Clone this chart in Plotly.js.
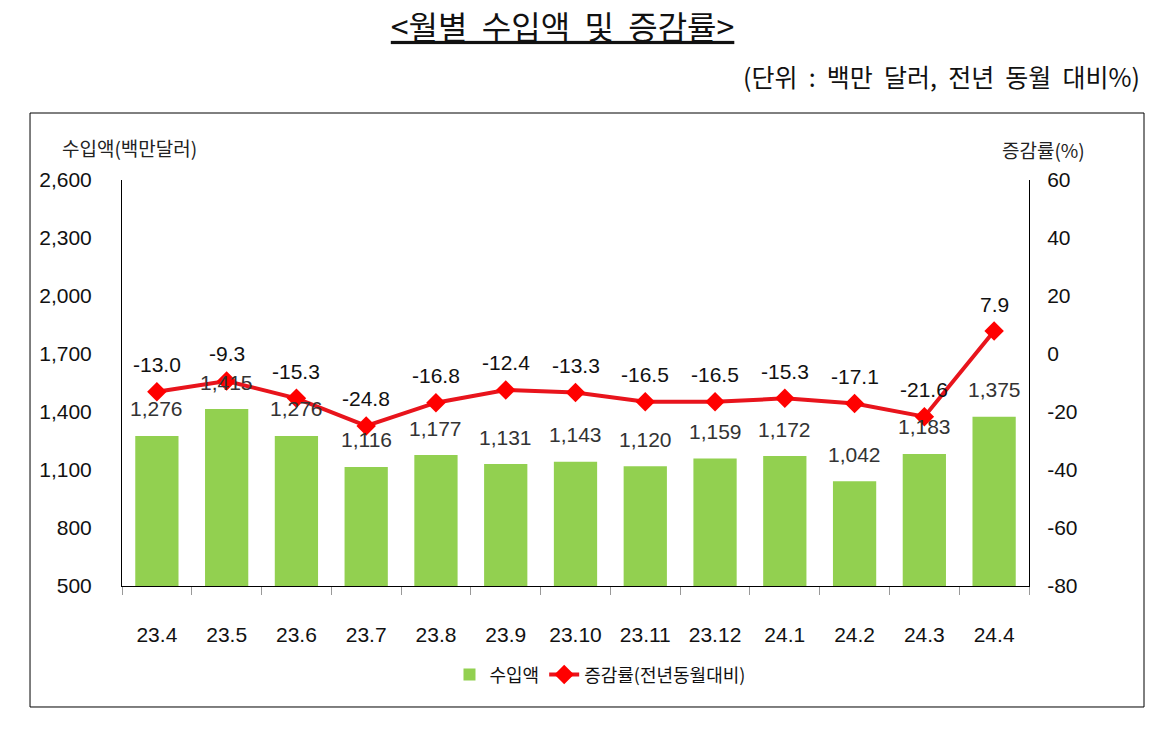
<!DOCTYPE html>
<html>
<head>
<meta charset="utf-8">
<script src="https://cdn.plot.ly/plotly-3.0.1.min.js"></script>
<style>html,body{margin:0;padding:0;background:#fff;}#chart{width:1172px;height:729px;}</style>
</head>
<body>
<div id="chart"></div>
<script>
const months = ["23.4","23.5","23.6","23.7","23.8","23.9","23.10","23.11","23.12","24.1","24.2","24.3","24.4"];
const imports = [1276,1415,1276,1116,1177,1131,1143,1120,1159,1172,1042,1183,1375];
const changeRate = [-13.0,-9.3,-15.3,-24.8,-16.8,-12.4,-13.3,-16.5,-16.5,-15.3,-17.1,-21.6,7.9];
const leftTicks = [500,800,1100,1400,1700,2000,2300,2600];
const rightTicks = [-80,-60,-40,-20,0,20,40,60];

const numFont = "Arial, 'Liberation Sans', 'Noto Sans CJK KR', sans-serif";
const krFont = "'Noto Sans CJK KR', 'Noto Sans', sans-serif";

const fmt = v => v.toLocaleString('en-US');
const idx = months.map((m, i) => i);

const traces = [
  {
    type: 'bar', x: idx, y: imports, name: '수입액',
    marker: {color: '#92D050'}, width: 0.62, yaxis: 'y',
    hoverinfo: 'skip'
  },
  {
    type: 'scatter', mode: 'lines+markers', x: idx, y: changeRate,
    name: '증감률(전년동월대비)', yaxis: 'y2',
    line: {color: '#E8141C', width: 4},
    marker: {symbol: 'diamond', size: 15, color: '#FF0000'},
    hoverinfo: 'skip'
  }
];

const annotations = [];
months.forEach((m, i) => {
  annotations.push({
    x: i, y: imports[i], xref: 'x', yref: 'y', text: fmt(imports[i]),
    showarrow: false, yshift: 27, font: {family: numFont, size: 21, color: '#333333'}
  });
  annotations.push({
    x: i, y: changeRate[i], xref: 'x', yref: 'y2', text: changeRate[i].toFixed(1),
    showarrow: false, yshift: 27, font: {family: numFont, size: 21, color: '#111111'}
  });
});
annotations.push({
  xref: 'paper', yref: 'paper', x: -0.068, y: 1.08, xanchor: 'left', yanchor: 'middle',
  text: '수입액(백만달러)', showarrow: false, font: {family: krFont, size: 19, color: '#222'}
});
annotations.push({
  xref: 'paper', yref: 'paper', x: 1.0165, y: 1.075, xanchor: 'center', yanchor: 'middle',
  text: '증감률(%)', showarrow: false, font: {family: krFont, size: 19, color: '#222'}
});
annotations.push({
  xref: 'paper', yref: 'paper', x: 1.125, y: 1.255, xanchor: 'right', yanchor: 'middle',
  text: '(단위&nbsp;&nbsp;:&nbsp;&nbsp;백만&nbsp;&nbsp;달러,&nbsp;&nbsp;전년&nbsp;&nbsp;동월&nbsp;&nbsp;대비%)', showarrow: false,
  font: {family: krFont, size: 25, color: '#111'}
});

const layout = {
  width: 1172, height: 729,
  margin: {l: 122, r: 143, t: 180, b: 143},
  paper_bgcolor: '#ffffff', plot_bgcolor: '#ffffff',
  title: {
    text: '<u><월별&nbsp;&nbsp;수입액&nbsp;&nbsp;및&nbsp;&nbsp;증감률></u>',
    x: 0.48, xanchor: 'center', y: 0.962, yanchor: 'middle',
    font: {family: krFont, size: 32, color: '#111'}
  },
  xaxis: {
    type: 'linear', range: [-0.5, 12.5],
    tickvals: idx, ticktext: months, tickangle: 0,
    showline: true, linecolor: '#000', linewidth: 1,
    ticks: '', showgrid: false, zeroline: false,
    tickfont: {family: numFont, size: 21, color: '#111'},
    ticklabelstandoff: 30
  },
  xaxis2: {
    overlaying: 'x', range: [-0.5, 12.5], tickvals: idx.concat([12]).map(v => v - 0.5).concat([12.5]),
    ticks: 'outside', ticklen: 8, tickcolor: '#999', showticklabels: false,
    showgrid: false, zeroline: false, showline: false, side: 'bottom'
  },
  yaxis: {
    range: [500, 2600], tickvals: leftTicks, ticktext: leftTicks.map(fmt),
    showline: true, linecolor: '#000', linewidth: 1, showgrid: false, zeroline: false,
    ticks: '', tickfont: {family: numFont, size: 21, color: '#111'},
    ticklabelstandoff: 25
  },
  yaxis2: {
    range: [-80, 60], tickvals: rightTicks, ticktext: rightTicks.map(v => String(v)),
    overlaying: 'y', side: 'right',
    showline: true, linecolor: '#000', linewidth: 1, showgrid: false, zeroline: false,
    ticks: '', tickfont: {family: numFont, size: 21, color: '#111'},
    ticklabelstandoff: 13
  },
  showlegend: true,
  legend: {
    orientation: 'h', x: 0.527, xanchor: 'center', y: -0.219, yanchor: 'middle',
    font: {family: krFont, size: 18, color: '#111'},
    traceorder: 'normal'
  },
  shapes: [{
    type: 'rect', xref: 'paper', yref: 'paper',
    x0: -0.1014, x1: 1.1268, y0: -0.298, y1: 1.165,
    line: {color: '#000', width: 1}, fillcolor: 'rgba(0,0,0,0)', layer: 'below'
  }],
  annotations: annotations
};

// dummy trace to activate tick-mark axis at category boundaries
traces.push({type: 'scatter', x: [0], y: [500], xaxis: 'x2', yaxis: 'y', mode: 'none', showlegend: false, hoverinfo: 'skip'});

Plotly.newPlot('chart', traces, layout, {displayModeBar: false, staticPlot: true});
</script>
</body>
</html>
